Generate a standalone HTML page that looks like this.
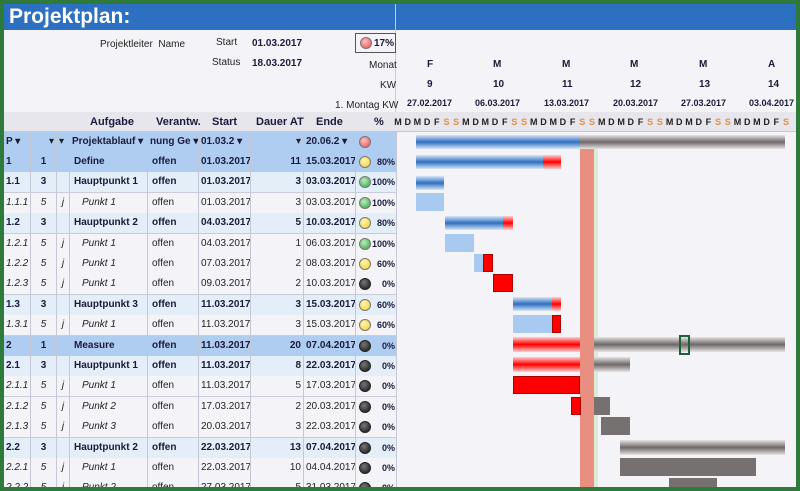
<!DOCTYPE html>
<html><head><meta charset="utf-8"><style>
*{margin:0;padding:0;box-sizing:border-box}
body{width:800px;height:491px;overflow:hidden;background:#2e7a3a;font-family:"Liberation Sans",sans-serif;position:relative}
#in{position:absolute;left:4px;top:4px;width:792px;height:483px;background:#f4f4f8;overflow:hidden}
.a{position:absolute}
.t{position:absolute;font-size:10px;white-space:nowrap;color:#222}
.row{position:absolute;left:0;width:393px;height:21px;border-bottom:1px solid #c9cdda}
.c{position:absolute;top:0;height:20px;line-height:20px;font-size:10px;white-space:nowrap;overflow:hidden;border-right:1px solid #c3c7d6;padding:0 2px;color:#222}
.b{font-weight:bold;color:#1a1a3a}
.i{font-style:italic}
.r{text-align:right}
.ctr{text-align:center}
.dot{position:absolute;top:4px;left:3px;width:12px;height:12px;border-radius:50%;border:1px solid #777}
.y{background:radial-gradient(circle at 40% 35%,#fff6b0,#f3cc30)}
.g{background:radial-gradient(circle at 40% 35%,#b8f0b8,#2ea043)}
.k{background:radial-gradient(circle at 40% 35%,#777,#111);border-color:#222}
.rd{background:radial-gradient(circle at 40% 35%,#ffc0c0,#e84c4c)}
.bar{position:absolute}
.gb{background:linear-gradient(#d6e6f8,#2f6fc0 50%,#d6e6f8)}
.gr{background:linear-gradient(#ffd0d0,#f00 50%,#ffd0d0)}
.gg{background:linear-gradient(#e8e4e4,#6e6868 50%,#e8e4e4)}
.lb{background:#a8caf0}
.fr{background:#f00;border:1px solid #a00}
.fg{background:#767070}
.dl{position:absolute;top:113px;font-size:9px;font-weight:bold;width:10px;text-align:center;color:#222}
</style></head><body>
<div id="in">
<div class="a" style="left:0;top:0;width:792px;height:26px;background:#2d6fc1"></div>
<div class="a" style="left:391px;top:0;width:1px;height:483px;background:#c8cad4"></div>
<div class="t" style="left:5px;top:1px;font-size:21px;font-weight:bold;color:#fff">Projektplan:</div>
<div class="t" style="left:96px;top:35px">Projektleiter&nbsp; Name</div>
<div class="t" style="left:212px;top:33px">Start</div>
<div class="t b" style="left:248px;top:34px">01.03.2017</div>
<div class="t" style="left:208px;top:53px">Status</div>
<div class="t b" style="left:248px;top:54px">18.03.2017</div>
<div class="a" style="left:351px;top:29px;width:41px;height:20px;border:1px solid #555;background:#f4f4f8"></div>
<div class="dot rd" style="left:356px;top:33px"></div>
<div class="t b" style="left:370px;top:34px">17%</div>
<div class="t" style="left:365px;top:56px">Monat</div>
<div class="t" style="left:376px;top:76px">KW</div>
<div class="t" style="left:331px;top:96px">1. Montag KW</div>
<div class="a" style="left:0;top:108px;width:792px;height:20px;background:#e6e6ec;border-bottom:1px solid #c8c8d4"></div>
<div class="t b" style="left:86px;top:112px;font-size:11px">Aufgabe</div>
<div class="t b" style="left:152px;top:112px;font-size:11px">Verantw.</div>
<div class="t b" style="left:208px;top:112px;font-size:11px">Start</div>
<div class="t b" style="left:252px;top:112px;font-size:11px">Dauer AT</div>
<div class="t b" style="left:312px;top:112px;font-size:11px">Ende</div>
<div class="t b" style="left:370px;top:112px;font-size:11px">%</div>
<div id="days"></div>
<div class="t b" style="left:423px;top:55px">F</div><div class="t b" style="left:489px;top:55px">M</div><div class="t b" style="left:558px;top:55px">M</div><div class="t b" style="left:626px;top:55px">M</div><div class="t b" style="left:695px;top:55px">M</div><div class="t b" style="left:764px;top:55px">A</div>
<div class="t b" style="left:423px;top:75px">9</div><div class="t b" style="left:489px;top:75px">10</div><div class="t b" style="left:558px;top:75px">11</div><div class="t b" style="left:626px;top:75px">12</div><div class="t b" style="left:695px;top:75px">13</div><div class="t b" style="left:764px;top:75px">14</div>
<div class="t b" style="left:403px;top:94px;font-size:9px">27.02.2017</div><div class="t b" style="left:471px;top:94px;font-size:9px">06.03.2017</div><div class="t b" style="left:540px;top:94px;font-size:9px">13.03.2017</div><div class="t b" style="left:609px;top:94px;font-size:9px">20.03.2017</div><div class="t b" style="left:677px;top:94px;font-size:9px">27.03.2017</div><div class="t b" style="left:745px;top:94px;font-size:9px">03.04.2017</div>

<div class="row" style="top:128px;background:#aecdf0">
<div class="c b" style="left:0;width:27px">P ▾</div><div class="c" style="left:27px;width:26px;text-align:right">▾</div><div class="c" style="left:53px;width:13px">▾</div>
<div class="c b" style="left:66px;width:78px">Projektablauf ▾</div><div class="c b" style="left:144px;width:51px">nung Ge ▾</div><div class="c b" style="left:195px;width:52px">01.03.2 ▾</div><div class="c r" style="left:247px;width:53px">▾</div><div class="c b" style="left:300px;width:52px">20.06.2 ▾</div><div class="c" style="left:352px;width:41px"><span class="dot rd"></span></div></div>

<div id="rows"></div>

<div class="a" style="left:576px;top:145px;width:14px;height:340px;background:rgba(230,110,90,0.75)"></div>
<div class="a" style="left:590px;top:145px;width:4px;height:340px;background:rgba(200,230,190,0.6)"></div>

<div class="bar gb" style="left:412px;top:131px;width:164px;height:14px"></div>
<div class="bar gg" style="left:576px;top:131px;width:205px;height:14px"></div>
<div class="bar gb" style="left:412px;top:151px;width:127px;height:14px"></div>
<div class="bar gr" style="left:539px;top:151px;width:18px;height:14px"></div>
<div class="bar gb" style="left:412px;top:172px;width:28px;height:14px"></div>
<div class="bar lb" style="left:412px;top:189px;width:28px;height:18px"></div>
<div class="bar gb" style="left:441px;top:212px;width:58px;height:14px"></div>
<div class="bar gr" style="left:499px;top:212px;width:10px;height:14px"></div>
<div class="bar lb" style="left:441px;top:230px;width:29px;height:18px"></div>
<div class="bar lb" style="left:470px;top:250px;width:10px;height:18px"></div>
<div class="bar fr" style="left:479px;top:250px;width:10px;height:18px"></div>
<div class="bar fr" style="left:489px;top:270px;width:20px;height:18px"></div>
<div class="bar gb" style="left:509px;top:293px;width:39px;height:14px"></div>
<div class="bar gr" style="left:548px;top:293px;width:9px;height:14px"></div>
<div class="bar lb" style="left:509px;top:311px;width:39px;height:18px"></div>
<div class="bar fr" style="left:548px;top:311px;width:9px;height:18px"></div>
<div class="bar gr" style="left:509px;top:333px;width:67px;height:15px"></div>
<div class="bar gg" style="left:590px;top:333px;width:191px;height:15px"></div>
<div class="a" style="left:675px;top:331px;width:11px;height:20px;border:2px solid #1f5e3a"></div>
<div class="bar gr" style="left:509px;top:353px;width:67px;height:15px"></div>
<div class="bar gg" style="left:590px;top:353px;width:36px;height:15px"></div>
<div class="bar fr" style="left:509px;top:372px;width:67px;height:18px"></div>
<div class="bar fr" style="left:567px;top:393px;width:10px;height:18px"></div>
<div class="bar fg" style="left:590px;top:393px;width:16px;height:18px"></div>
<div class="bar fg" style="left:597px;top:413px;width:29px;height:18px"></div>
<div class="bar gg" style="left:616px;top:436px;width:165px;height:15px"></div>
<div class="bar fg" style="left:616px;top:454px;width:136px;height:18px"></div>
<div class="bar fg" style="left:665px;top:474px;width:48px;height:10px"></div>
</div>
<script>
var L="MDMDFSS",dh="";
for(var d=0;d<41;d++){var ch=L[d%7];dh+='<div class="dl" style="left:'+(389+d*9.7)+'px'+(ch=="S"?';color:#e0904a':'')+'">'+ch+'</div>';}
document.getElementById("days").outerHTML=dh;
var D=[
["1","1","","Define","offen","01.03.2017","11","15.03.2017","y","80%",1],
["1.1","3","","Hauptpunkt 1","offen","01.03.2017","3","03.03.2017","g","100%",3],
["1.1.1","5","j","Punkt 1","offen","01.03.2017","3","03.03.2017","g","100%",5],
["1.2","3","","Hauptpunkt 2","offen","04.03.2017","5","10.03.2017","y","80%",3],
["1.2.1","5","j","Punkt 1","offen","04.03.2017","1","06.03.2017","g","100%",5],
["1.2.2","5","j","Punkt 1","offen","07.03.2017","2","08.03.2017","y","60%",5],
["1.2.3","5","j","Punkt 1","offen","09.03.2017","2","10.03.2017","k","0%",5],
["1.3","3","","Hauptpunkt 3","offen","11.03.2017","3","15.03.2017","y","60%",3],
["1.3.1","5","j","Punkt 1","offen","11.03.2017","3","15.03.2017","y","60%",5],
["2","1","","Measure","offen","11.03.2017","20","07.04.2017","k","0%",1],
["2.1","3","","Hauptpunkt 1","offen","11.03.2017","8","22.03.2017","k","0%",3],
["2.1.1","5","j","Punkt 1","offen","11.03.2017","5","17.03.2017","k","0%",5],
["2.1.2","5","j","Punkt 2","offen","17.03.2017","2","20.03.2017","k","0%",5],
["2.1.3","5","j","Punkt 3","offen","20.03.2017","3","22.03.2017","k","0%",5],
["2.2","3","","Hauptpunkt 2","offen","22.03.2017","13","07.04.2017","k","0%",3],
["2.2.1","5","j","Punkt 1","offen","22.03.2017","10","04.04.2017","k","0%",5],
["2.2.2","5","j","Punkt 2","offen","27.03.2017","5","31.03.2017","k","0%",5]];
var h="";
D.forEach(function(r,i){
var L=r[10],bg=L==1?"#aecdf0":L==3?"#e4eef9":"#f4f4f8",b=L<5?" b":"",it=L==5?" i":"";
h+='<div class="row" style="top:'+(148+i*20.4)+'px;background:'+bg+'">'+
'<div class="c'+b+it+'" style="left:0;width:27px">'+r[0]+'</div>'+
'<div class="c ctr'+b+it+'" style="left:27px;width:26px">'+r[1]+'</div>'+
'<div class="c ctr i" style="left:53px;width:13px">'+r[2]+'</div>'+
'<div class="c'+b+it+'" style="left:66px;width:78px;padding-left:'+(L==5?12:4)+'px">'+r[3]+'</div>'+
'<div class="c'+b+'" style="left:144px;width:51px;padding-left:4px">'+r[4]+'</div>'+
'<div class="c ctr'+b+'" style="left:195px;width:52px">'+r[5]+'</div>'+
'<div class="c r'+b+'" style="left:247px;width:53px">'+r[6]+'</div>'+
'<div class="c r'+b+'" style="left:300px;width:52px">'+r[7]+'</div>'+
'<div class="c r b" style="left:352px;width:41px;font-size:9px;padding-right:1px"><span class="dot '+r[8]+'"></span>'+r[9]+'</div></div>';
});
document.getElementById("rows").outerHTML=h;
</script>
</body></html>
